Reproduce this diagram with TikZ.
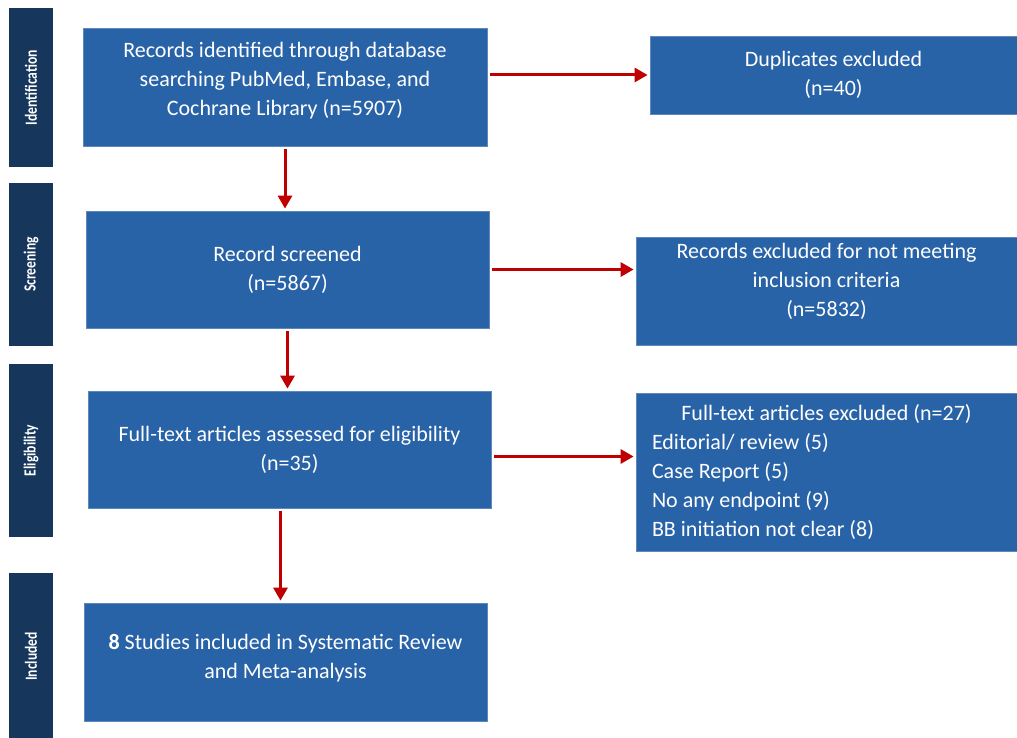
\documentclass[tikz,border=0pt]{standalone}
\usepackage{fontspec}
\usepackage{graphicx}
\setmainfont{Carlito}
\usetikzlibrary{arrows.meta,positioning}
\definecolor{boxblue}{RGB}{40,98,167}
\definecolor{stagenavy}{RGB}{22,54,92}
\definecolor{arrowred}{RGB}{192,0,0}
\newcommand{\stagetext}[1]{\scalebox{0.8}[1]{#1}}

\begin{document}
\begin{tikzpicture}
	[x=1pt, y=-1pt,
	 box/.style = {fill=boxblue, draw=boxblue!75!white, line width=0.8pt, text=white, align=center, inner sep=0pt, font=\fontsize{22}{29}\selectfont},
	 stage/.style = {fill=stagenavy, text=white, rotate=90, minimum height=44pt, inner sep=0pt, font=\fontsize{17}{19}\selectfont\bfseries},
	 flow/.style = {draw=arrowred, line width=3pt, shorten <=3pt, shorten >=2pt, -{Triangle[length=13pt,width=14pt]}}]
	\useasboundingbox (0,0) rectangle (1017,738);
	% stages on the left
	\node[stage, minimum width=159pt] (sid) at (31,87.5) {\stagetext{Identification}};
	\node[stage, minimum width=163pt] (sscr) at (31,264.5) {\stagetext{Screening}};
	\node[stage, minimum width=173pt] (selig) at (31,450.5) {\stagetext{Eligibility}};
	\node[stage, minimum width=167pt] (sincl) at (31,656.5) {\stagetext{Included}};
	% main column
	\node[box, minimum width=404pt, minimum height=118pt, text depth=15.5pt] (rec) at (285,87) {Records identified through database\\ searching PubMed, Embase, and\\ Cochrane Library (n=5907)};
	\node[box, minimum width=403pt, minimum height=117pt] (scr) at (287.5,269.5) {Record screened\\ (n=5867)};
	\node[box, minimum width=403pt, minimum height=117pt] (elig) at (289.5,449.5) {Full-text articles assessed for eligibility\\ (n=35)};
	\node[box, minimum width=403pt, minimum height=118pt, text depth=10.5pt] (incl) at (285.5,662) {\textbf{8} Studies included in Systematic Review\\ and Meta-analysis};
	% exclusions
	\node[box, minimum width=367pt, minimum height=78pt] (dup) at (833.5,75) {Duplicates excluded\\ (n=40)};
	\node[box, minimum width=381pt, minimum height=108pt, text depth=21.5pt] (exc2) at (826.5,291) {Records excluded for not meeting\\ inclusion criteria\\ (n=5832)};
	\node[box, minimum width=381pt, minimum height=158pt, text width=349pt, align=flush left] (exc3) at (826.5,472) {\makebox[\linewidth]{Full-text articles excluded (n=27)}\\ Editorial/ review (5)\\ Case Report (5)\\ No any endpoint (9)\\ BB initiation not clear (8)};
	% arrows
	\coordinate (eligout) at ([yshift=-7pt]elig.east);
	\coordinate (eligdown) at ([xshift=-9pt]elig.south);
	\draw[flow] (rec.east |- dup.west) -- (dup.west);
	\draw[flow] (rec.south) -- (scr.north -| rec.south);
	\draw[flow] (scr.east) -- (scr.east -| exc2.west);
	\draw[flow] (scr.south) -- (elig.north -| scr.south);
	\draw[flow] (eligout) -- (eligout -| exc3.west);
	\draw[flow] (eligdown) -- (eligdown |- incl.north);
\end{tikzpicture}
\end{document}
